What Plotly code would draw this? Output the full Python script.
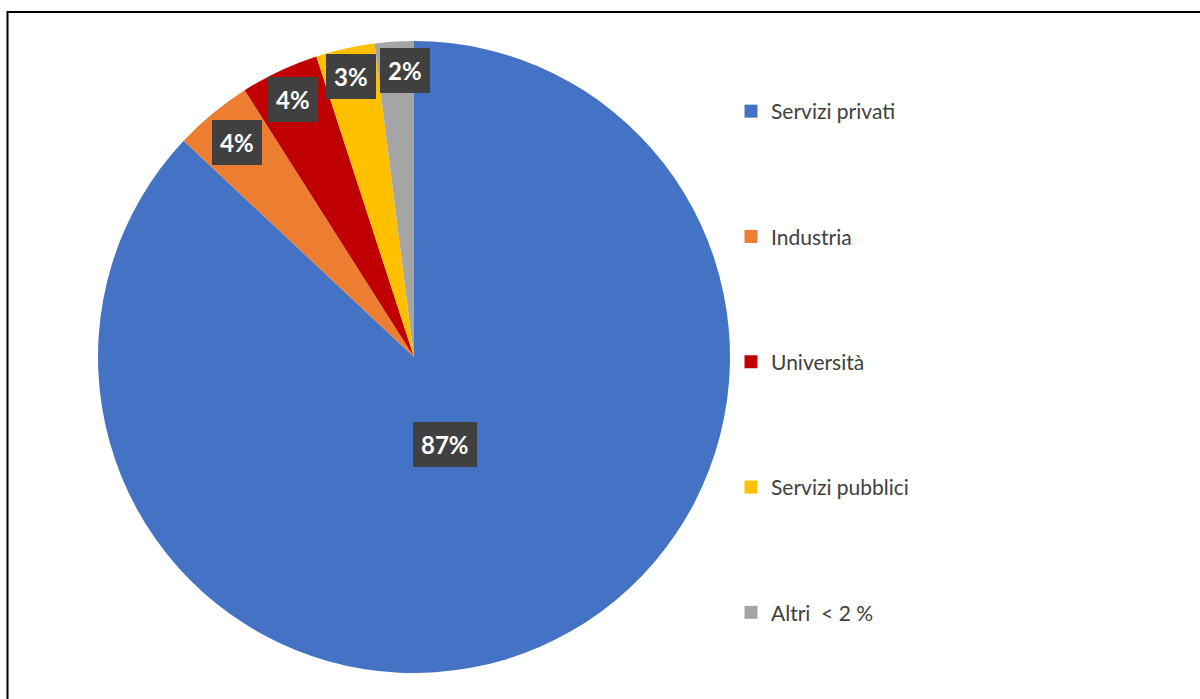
import math
import plotly.graph_objects as go

categories = ["Servizi privati", "Industria", "Università", "Servizi pubblici", "Altri  < 2 %"]
values = [87, 4, 4, 3, 2]
labels_text = ["87%", "4%", "4%", "3%", "2%"]
colors = ["#4472C4", "#ED7D31", "#C00000", "#FFC000", "#A5A5A5"]

W, H = 1200, 699
CX, CY, R = 414, 357, 316  # pie centre / radius in pixels

fig = go.Figure()
fig.add_trace(go.Pie(
    labels=categories, values=values, sort=False, direction="clockwise", rotation=0,
    marker=dict(colors=colors, line=dict(width=0)),
    textinfo="none", hoverinfo="label+percent", showlegend=False,
    domain=dict(x=[(CX - R) / W, (CX + R) / W], y=[1 - (CY + R) / H, 1 - (CY - R) / H]),
))

# legend entries
for i, (c, col) in enumerate(zip(categories, colors)):
    fig.add_trace(go.Scatter(
        x=[None], y=[None], mode="markers", name=c, legendgroup=str(i),
        marker=dict(symbol="square", size=13, color=col),
    ))

# data labels
total = sum(values)
cum = 0
radii = [0.30, 0.88, 0.90, 0.91, 0.91]
xshifts = [-7, 0, 0, 0, 9]
for v, t, rr, xs in zip(values, labels_text, radii, xshifts):
    mid = (cum + v / 2) / total * 2 * math.pi
    cum += v
    px = CX + rr * R * math.sin(mid)
    py = CY - rr * R * math.cos(mid)
    fig.add_annotation(
        x=px / W, y=1 - py / H, xref="paper", yref="paper", text="<b>%s</b>" % t,
        showarrow=False, xshift=xs, xanchor="center", yanchor="middle",
        font=dict(family="Lato", size=24, color="white"),
        bgcolor="#404040", borderpad=7, bordercolor="#404040", borderwidth=1,
    )

# outer frame
fig.add_shape(type="rect", xref="paper", yref="paper",
              x0=7.5 / W, y0=-0.05, x1=1.05, y1=1 - 12 / H,
              line=dict(color="black", width=2), fillcolor="rgba(0,0,0,0)")

fig.update_layout(
    width=W, height=H, margin=dict(l=0, r=0, t=0, b=0),
    paper_bgcolor="white", plot_bgcolor="white",
    xaxis=dict(visible=False), yaxis=dict(visible=False),
    showlegend=True,
    legend=dict(x=731 / W, y=1 - 91 / H, xanchor="left", yanchor="top",
                font=dict(family="Lato", size=21, color="#404040"),
                tracegroupgap=95, bgcolor="rgba(0,0,0,0)"),
)

fig.write_html("out.html", config={"displayModeBar": False},
               post_script="document.body.style.margin='0';document.body.style.overflow='hidden';")
